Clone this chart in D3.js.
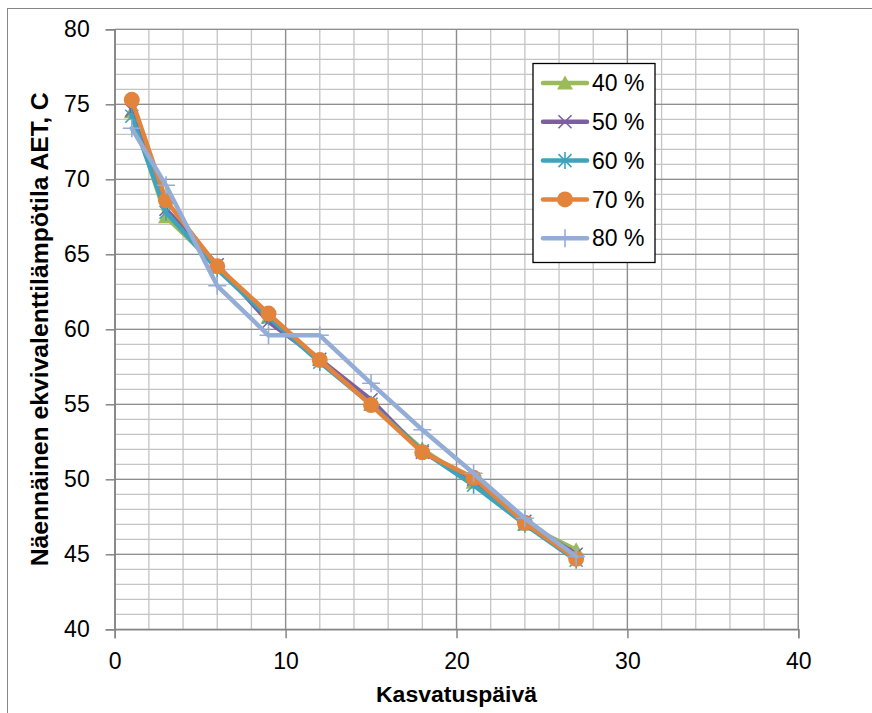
<!DOCTYPE html>
<html>
<head>
<meta charset="utf-8">
<script src="https://cdn.jsdelivr.net/npm/d3@7"></script>
<style>
  body { margin: 0; background: #fff; }
  text { font-family: "Liberation Sans", Arial, sans-serif; }
</style>
</head>
<body>
<script>
// chart size and plot area (matches the excel-like layout)
var width = 872, height = 713;
var margin = {top: 29.3, right: 73.7, bottom: 83.7, left: 114.7};
var w = width - margin.left - margin.right;
var h = height - margin.top - margin.bottom;

// data
var days = [1, 3, 6, 9, 12, 15, 18, 21, 24, 27];
var seriesNames = ["40 %", "50 %", "60 %", "70 %", "80 %"];
var aet40 = [74.5, 67.5, 64.2, 60.8, 58.0, 55.0, 52.0, 49.8, 47.0, 45.3];
var aet50 = [74.6, 68.0, 64.3, 60.5, 58.0, 55.3, 51.8, 50.0, 47.2, 45.0];
var aet60 = [74.2, 67.8, 64.0, 60.8, 57.8, 55.0, 51.9, 49.6, 47.0, 44.6];
var aet70 = [75.3, 68.6, 64.2, 61.05, 57.95, 54.95, 51.8, 50.1, 47.1, 44.7];
var aet80 = [73.4, 69.6, 62.9, 59.6, 59.6, 56.4, 53.3, 50.4, 47.4, 44.85];
var xTicks = [0, 10, 20, 30, 40];
var yTicks = [40, 45, 50, 55, 60, 65, 70, 75, 80];

var colors = ["#9BBB59", "#7D5FA0", "#3FA3BD", "#E3843C", "#94ADD6"];
var markers = ["triangle", "x", "asterisk", "circle", "plus"];
var allSeries = [aet40, aet50, aet60, aet70, aet80];

var svg = d3.select("body").append("svg")
    .attr("width", width)
    .attr("height", height);

// chart border
svg.append("rect")
    .attr("x", 7.5).attr("y", 8.5)
    .attr("width", width + 20).attr("height", height + 20)
    .attr("fill", "none").attr("stroke", "#868686").attr("stroke-width", 1);

var g = svg.append("g")
    .attr("transform", "translate(" + margin.left + "," + margin.top + ")");

var x = d3.scaleLinear().domain([0, 40]).range([0, w]);
var y = d3.scaleLinear().domain([40, 80]).range([h, 0]);

// minor grid
g.selectAll(".vminor")
    .data(d3.range(0, 41, 2))
    .enter().append("line")
    .attr("x1", function(d) { return x(d); }).attr("x2", function(d) { return x(d); })
    .attr("y1", 0).attr("y2", h)
    .attr("stroke", "#C4C4C4").attr("stroke-width", 1.3);

g.selectAll(".hminor")
    .data(d3.range(40, 81, 1))
    .enter().append("line")
    .attr("x1", 0).attr("x2", w)
    .attr("y1", function(d) { return y(d); }).attr("y2", function(d) { return y(d); })
    .attr("stroke", "#C4C4C4").attr("stroke-width", 1.3);

// major grid
g.selectAll(".vmajor")
    .data(xTicks)
    .enter().append("line")
    .attr("x1", function(d) { return x(d); }).attr("x2", function(d) { return x(d); })
    .attr("y1", 0).attr("y2", h)
    .attr("stroke", "#8E8E8E").attr("stroke-width", 1.3);

g.selectAll(".hmajor")
    .data(yTicks)
    .enter().append("line")
    .attr("x1", 0).attr("x2", w)
    .attr("y1", function(d) { return y(d); }).attr("y2", function(d) { return y(d); })
    .attr("stroke", "#8E8E8E").attr("stroke-width", 1.3);

// axes
var xAxis = g.append("g")
    .attr("transform", "translate(0," + h + ")")
    .call(d3.axisBottom(x).tickValues(xTicks).tickSize(9).tickPadding(14));
var yAxis = g.append("g")
    .call(d3.axisLeft(y).tickValues(yTicks).tickSize(9).tickPadding(16));

[xAxis, yAxis].forEach(function(a) {
  a.select(".domain").attr("stroke", "#868686").attr("stroke-width", 1.5);
  a.selectAll(".tick line").attr("stroke", "#868686").attr("stroke-width", 1.5);
  a.selectAll("text").attr("font-size", "23px").attr("fill", "#000")
    .attr("font-family", "Liberation Sans, Arial, sans-serif");
});

// axis titles (reference font is condensed, so stretch to the same length)
svg.append("text")
    .attr("x", margin.left + w / 2)
    .attr("y", 702)
    .attr("text-anchor", "middle")
    .attr("font-size", "22px").attr("font-weight", "bold")
    .attr("textLength", 161).attr("lengthAdjust", "spacingAndGlyphs")
    .text("Kasvatuspäivä");

svg.append("text")
    .attr("transform", "translate(48," + (margin.top + h / 2) + ") rotate(-90)")
    .attr("text-anchor", "middle")
    .attr("font-size", "23px").attr("font-weight", "bold")
    .attr("textLength", 474).attr("lengthAdjust", "spacingAndGlyphs")
    .text("Näennäinen ekvivalenttilämpötila AET, C");

// marker drawing
function drawMarker(sel, type, color) {
  if (type === "triangle") {
    sel.append("path").attr("d", "M0,-7.5L8,6.5L-8,6.5Z").attr("fill", color);
  } else if (type === "circle") {
    sel.append("circle").attr("r", 8).attr("fill", color);
  } else if (type === "x") {
    sel.append("path").attr("d", "M-6.5,-6.5L6.5,6.5M-6.5,6.5L6.5,-6.5")
      .attr("stroke", color).attr("stroke-width", 1.6).attr("fill", "none");
  } else if (type === "asterisk") {
    sel.append("path").attr("d", "M-6.5,-6.5L6.5,6.5M-6.5,6.5L6.5,-6.5M0,-8.5L0,8.5")
      .attr("stroke", color).attr("stroke-width", 1.6).attr("fill", "none");
  } else if (type === "plus") {
    sel.append("path").attr("d", "M-9,0L9,0M0,-9L0,9")
      .attr("stroke", color).attr("stroke-width", 1.6).attr("fill", "none");
  }
}

var line = d3.line()
    .x(function(d, i) { return x(days[i]); })
    .y(function(d) { return y(d); });

allSeries.forEach(function(vals, k) {
  var sg = g.append("g");
  sg.append("path")
      .datum(vals)
      .attr("d", line)
      .attr("fill", "none")
      .attr("stroke", colors[k])
      .attr("stroke-width", 4.5)
      .attr("stroke-linejoin", "round")
      .attr("stroke-linecap", "round");
  sg.selectAll(".m")
      .data(vals)
      .enter().append("g")
      .attr("transform", function(d, i) { return "translate(" + x(days[i]) + "," + y(d) + ")"; })
      .each(function() { drawMarker(d3.select(this), markers[k], colors[k]); });
});

// legend
var legend = svg.append("g");
legend.append("rect")
    .attr("x", 533).attr("y", 63.5)
    .attr("width", 122).attr("height", 199)
    .attr("fill", "#fff").attr("stroke", "#000").attr("stroke-width", 1.3);

seriesNames.forEach(function(name, k) {
  var ly = 83 + k * 38.8;
  var item = legend.append("g");
  item.append("line")
      .attr("x1", 543).attr("x2", 587)
      .attr("y1", ly).attr("y2", ly)
      .attr("stroke", colors[k]).attr("stroke-width", 4.5)
      .attr("stroke-linecap", "round");
  var mk = item.append("g").attr("transform", "translate(565," + ly + ")");
  drawMarker(mk, markers[k], colors[k]);
  item.append("text")
      .attr("x", 592).attr("y", ly)
      .attr("dy", "0.36em")
      .attr("font-size", "23px")
      .text(name);
});
</script>
</body>
</html>
